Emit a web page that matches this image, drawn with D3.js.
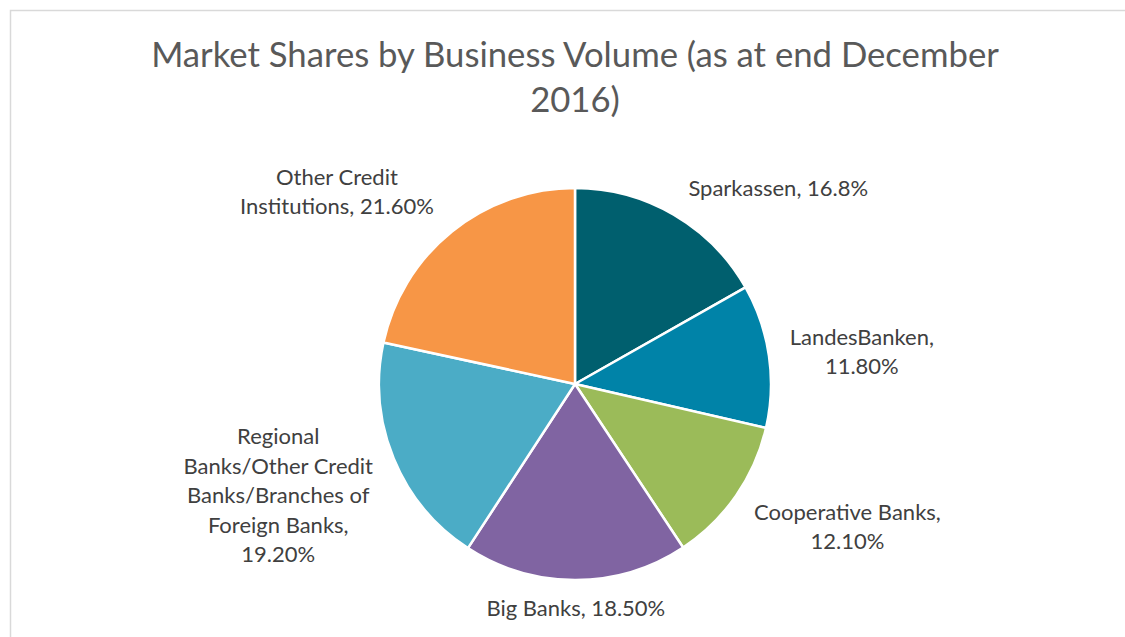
<!DOCTYPE html>
<html>
<head>
<meta charset="utf-8">
<title>Market Shares by Business Volume</title>
<script src="https://d3js.org/d3.v7.min.js"></script>
<style>
  body { margin: 0; background: #fff; }
  .title { font-family: Lato, sans-serif; font-size: 34.7px; fill: #595959; }
  .lbl { font-family: Lato, sans-serif; font-size: 22px; fill: #404040; }
</style>
</head>
<body>
<div id="chart"></div>
<script>
// data
var categories = ["Sparkassen", "LandesBanken", "Cooperative Banks", "Big Banks",
  "Regional Banks/Other Credit Banks/Branches of Foreign Banks", "Other Credit Institutions"];
var shares = [16.8, 11.8, 12.1, 18.5, 19.2, 21.6];
var shareText = ["16.8%", "11.80%", "12.10%", "18.50%", "19.20%", "21.60%"];
var colours = ["#005f6e", "#0083a8", "#9bbb59", "#8064a2", "#4bacc6", "#f79646"];

// label text broken the way the chart wraps it
var labelLines = [
  ["Sparkassen, 16.8%"],
  ["LandesBanken,", "11.80%"],
  ["Cooperative Banks,", "12.10%"],
  ["Big Banks, 18.50%"],
  ["Regional", "Banks/Other Credit", "Banks/Branches of", "Foreign Banks,", "19.20%"],
  ["Other Credit", "Institutions, 21.60%"]
];
// nudges from the outer-label centroid (best-fit placement)
var labelNudge = [[70, 33], [25, 6], [55, -8], [0, -40], [-52, 11], [-72, 14]];

var W = 1125, H = 637;
var cx = 575, cy = 384, r = 196;

var svg = d3.select("#chart").append("svg")
    .attr("width", W)
    .attr("height", H);

// chart area frame
svg.append("rect")
    .attr("x", 10.5).attr("y", 10.5)
    .attr("width", W + 20).attr("height", H + 20)
    .attr("fill", "#fff")
    .attr("stroke", "#d9d9d9")
    .attr("stroke-width", 1.5);

// title
var title = svg.append("text").attr("class", "title").attr("text-anchor", "middle");
title.append("tspan").attr("x", cx).attr("y", 67).text("Market Shares by Business Volume (as at end December");
title.append("tspan").attr("x", cx).attr("y", 112).text("2016)");

var pie = d3.pie().sort(null).value(function(d) { return d; });
var arcs = pie(shares);

var arc = d3.arc().innerRadius(0).outerRadius(r);
var labelArc = d3.arc().innerRadius(r * 1.35).outerRadius(r * 1.35);

var g = svg.append("g").attr("transform", "translate(" + cx + "," + cy + ")");

g.selectAll("path.slice")
    .data(arcs)
  .enter().append("path")
    .attr("class", "slice")
    .attr("d", arc)
    .attr("fill", function(d, i) { return colours[i]; })
    .attr("stroke", "#fff")
    .attr("stroke-width", 2.5)
    .attr("stroke-linejoin", "round");

var lineH = 29.5;
g.selectAll("text.lbl")
    .data(arcs)
  .enter().append("text")
    .attr("class", "lbl")
    .attr("text-anchor", "middle")
    .each(function(d, i) {
      var c = labelArc.centroid(d);
      var x = c[0] + labelNudge[i][0];
      var y = c[1] + labelNudge[i][1];
      var lines = labelLines[i];
      var top = y - (lines.length - 1) * lineH / 2;
      var t = d3.select(this);
      lines.forEach(function(s, k) {
        t.append("tspan")
          .attr("x", x)
          .attr("y", top + k * lineH)
          .attr("dy", "0.35em")
          .text(s);
      });
    });
</script>
</body>
</html>
